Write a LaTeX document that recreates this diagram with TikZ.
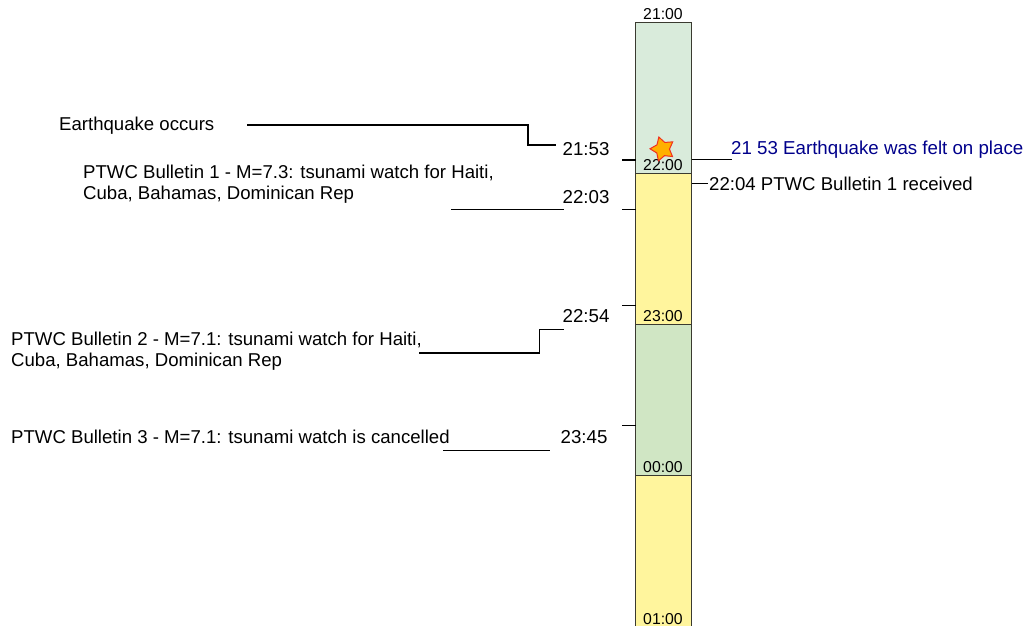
\documentclass[tikz,border=0pt]{standalone}
\usepackage{fontspec}
\setmainfont{Liberation Sans}
\usetikzlibrary{shapes.geometric}
\definecolor{palegreen}{HTML}{D9EBDB}
\definecolor{midgreen}{HTML}{D0E6C4}
\definecolor{paleyellow}{HTML}{FFF59D}
\definecolor{edgegrey}{HTML}{3A3A30}
\definecolor{navytext}{HTML}{00008B}
\definecolor{starfill}{HTML}{FFB000}
\definecolor{starline}{HTML}{F03020}
\tikzset{
  band/.style={draw=edgegrey,line width=1.4pt,minimum width=56pt,inner sep=0pt,outer sep=0pt,anchor=north west,rectangle},
  conn/.style={draw=black,line width=1.1pt},
  timelabel/.style={font=\fontsize{18.7}{18.7}\selectfont,inner sep=0pt,anchor=base},
  hourlabel/.style={font=\fontsize{15.8}{15.8}\selectfont,inner sep=0pt,anchor=base},
  note/.style={font=\fontsize{18.6}{21}\selectfont,inner sep=0pt,anchor=base west,align=left},
}
\begin{document}
\begin{tikzpicture}[x=1pt,y=-1pt]
\useasboundingbox (0,0) rectangle (1027,625);
% bar
\begin{scope}
\clip (0,0) rectangle (1027,625);
\node[band,fill=palegreen,minimum height=151pt] (b1) at (635.7,22.6) {};
\node[band,fill=paleyellow,minimum height=151pt] (b2) at (635.7,173.4) {};
\node[band,fill=midgreen,minimum height=151pt] (b3) at (635.7,324.4) {};
\node[band,fill=paleyellow,minimum height=170pt] (b4) at (635.7,475.5) {};
\end{scope}
% hour labels
\node[hourlabel] (h21) at (663,19.5) {21:00};
\node[hourlabel] (h22) at (663,170.5) {22:00};
\node[hourlabel] (h23) at (663,321.5) {23:00};
\node[hourlabel] (h00) at (663,472.5) {00:00};
\node[hourlabel] (h01) at (663,624.5) {01:00};
% star
\node[star,star points=5,star point ratio=1.8,draw=starline,fill=starfill,line width=1pt,minimum size=25pt,inner sep=0pt,rotate=17] (quake) at (662.5,149) {};
% left times
\node[timelabel] (t1) at (586,155) {21:53};
\node[timelabel] (t2) at (586,203) {22:03};
\node[timelabel] (t3) at (586,322) {22:54};
\node[timelabel] (t4) at (584,443) {23:45};
% notes
\node[note] (n0) at (59,130) {Earthquake occurs};
\node[note] (n1) at (83,199) {PTWC Bulletin 1 - M=7.3: tsunami watch for Haiti,\\Cuba, Bahamas, Dominican Rep};
\node[note] (n2) at (11,366) {PTWC Bulletin 2 - M=7.1: tsunami watch for Haiti,\\Cuba, Bahamas, Dominican Rep};
\node[note] (n3) at (11,443) {PTWC Bulletin 3 - M=7.1: tsunami watch is cancelled};
\node[note,text=navytext,font=\fontsize{18.7}{21}\selectfont] (r1) at (731,154) {21 53 Earthquake was felt on place};
\node[note] (r2) at (709,190) {22:04 PTWC Bulletin 1 received};
% named connector ends
\coordinate (a0) at (247,125); \coordinate (a1) at (528,125); \coordinate (a2) at (528,145); \coordinate (a3) at (556,145);
\coordinate (c0) at (451,209.4); \coordinate (c1) at (564,209.4);
\coordinate (d0) at (419,353); \coordinate (d1) at (539.5,353); \coordinate (d2) at (539.5,329.3); \coordinate (d3) at (564,329.3);
\coordinate (e0) at (443,450.7); \coordinate (e1) at (550,450.7);
\coordinate (k1) at (622,160); \coordinate (k1b) at (635.7,160);
\coordinate (k2) at (622,209.5); \coordinate (k2b) at (635.7,209.5);
\coordinate (k3) at (622,305.3); \coordinate (k3b) at (635.7,305.3);
\coordinate (k4) at (622,425.7); \coordinate (k4b) at (635.7,425.7);
\coordinate (r1a) at (691.7,159.3); \coordinate (r1b) at (732,159.3);
\coordinate (r2a) at (691.7,183.5); \coordinate (r2b) at (708,183.5);
\draw[conn] (a0) -- (a1) -- (a2) -- (a3);
\draw[conn] (c0) -- (c1);
\draw[conn,line width=1.3pt] (d0) -- (d1) -- (d2) -- (d3);
\draw[conn] (e0) -- (e1);
\draw[conn] (k1) -- (k1b);
\draw[conn] (k2) -- (k2b);
\draw[conn] (k3) -- (k3b);
\draw[conn] (k4) -- (k4b);
\draw[conn,line width=1.3pt] (r1a) -- (r1b);
\draw[conn] (r2a) -- (r2b);
\end{tikzpicture}
\end{document}
